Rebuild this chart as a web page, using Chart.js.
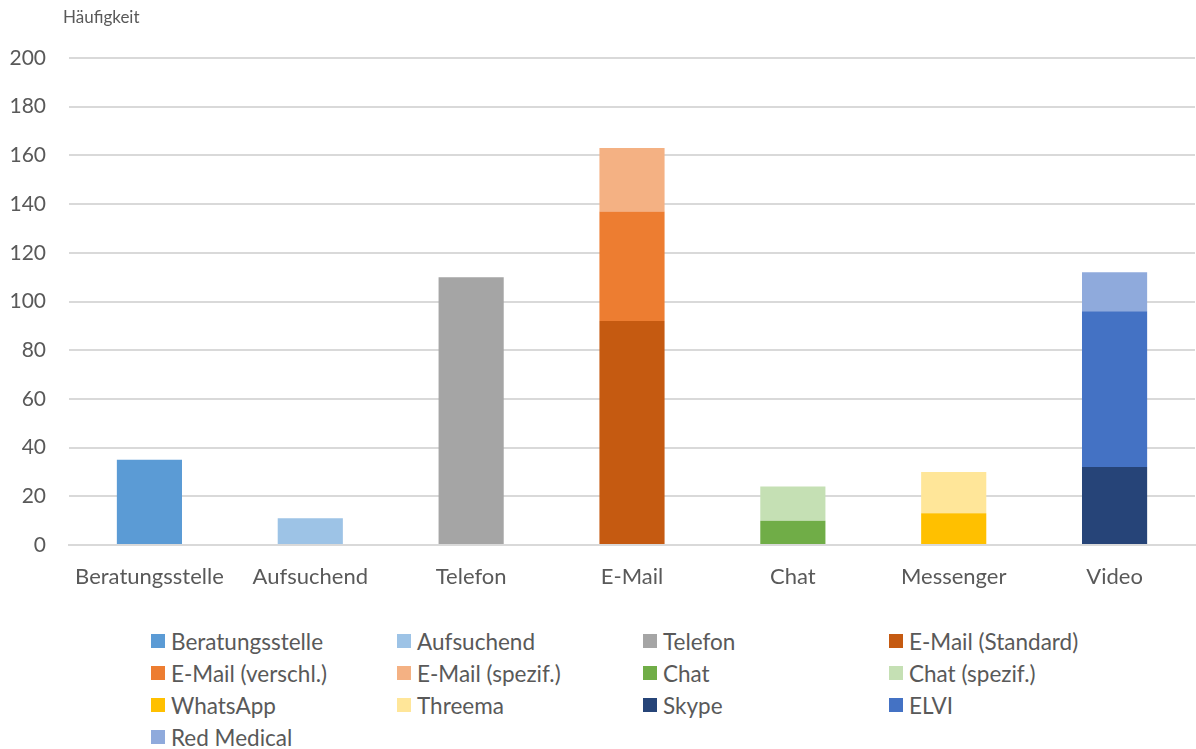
<!DOCTYPE html>
<html>
<head>
<meta charset="utf-8">
<script src="https://cdn.jsdelivr.net/npm/chart.js@4/dist/chart.umd.min.js"></script>
<style>
  body { margin: 0; background: #fff; font-family: Lato, sans-serif; }
  #wrap { position: relative; width: 1196px; height: 749px; }
  #chart { position: absolute; left: 0; top: 0; }
  #legend { position: absolute; left: 151px; top: 625px; display: grid;
            grid-template-columns: repeat(4, 246px); grid-auto-rows: 32px; }
  .item { display: flex; align-items: center; font-size: 22.5px; color: #595959; white-space: nowrap; }
  .box { width: 14px; height: 14px; margin-right: 6px; flex: none; }
</style>
</head>
<body>
<div id="wrap">
  <canvas id="chart" width="1196" height="615"></canvas>
  <div id="legend"></div>
</div>
<script>
// categories on the x axis
var categories = ['Beratungsstelle', 'Aufsuchend', 'Telefon', 'E-Mail', 'Chat', 'Messenger', 'Video'];

// one entry per stacked series
var seriesNames = ['Beratungsstelle', 'Aufsuchend', 'Telefon', 'E-Mail (Standard)', 'E-Mail (verschl.)',
  'E-Mail (spezif.)', 'Chat', 'Chat (spezif.)', 'WhatsApp', 'Threema', 'Skype', 'ELVI', 'Red Medical'];
var seriesCategory = [0, 1, 2, 3, 3, 3, 4, 4, 5, 5, 6, 6, 6];
var seriesValues = [35, 11, 110, 92, 45, 26, 10, 14, 13, 17, 32, 64, 16];
var seriesColors = ['#5B9BD5', '#9DC3E6', '#A5A5A5', '#C55A11', '#ED7D31', '#F4B183', '#70AD47',
  '#C5E0B4', '#FFC000', '#FFE699', '#264478', '#4472C4', '#8FAADC'];

var yTicks = [0, 20, 40, 60, 80, 100, 120, 140, 160, 180, 200];
var yTitle = 'Häufigkeit';

var datasets = seriesNames.map(function(name, i) {
  var data = categories.map(function() { return null; });
  data[seriesCategory[i]] = seriesValues[i];
  return {
    label: name,
    data: data,
    backgroundColor: seriesColors[i],
    borderWidth: 0,
    barPercentage: 0.405,
    categoryPercentage: 1
  };
});

var axisTitle = {
  id: 'axisTitle',
  afterDraw: function(chart) {
    var ctx = chart.ctx;
    ctx.save();
    ctx.font = '17px Lato';
    ctx.fillStyle = '#595959';
    ctx.textBaseline = 'middle';
    ctx.fillText(yTitle, 63, 18);
    ctx.restore();
  }
};

var ctx = document.getElementById('chart').getContext('2d');
var myChart = new Chart(ctx, {
  type: 'bar',
  data: { labels: categories, datasets: datasets },
  options: {
    responsive: false,
    animation: false,
    layout: { padding: { top: 58, right: 1, left: 0, bottom: 0 } },
    plugins: { legend: { display: false }, tooltip: { enabled: false } },
    scales: {
      x: {
        stacked: true,
        grid: { display: false, drawTicks: false },
        border: { color: '#d9d9d9', width: 2 },
        ticks: { color: '#595959', font: { family: 'Lato', size: 22 }, padding: 19 },
        afterFit: function(scale) { scale.height = 70; }
      },
      y: {
        stacked: true,
        min: 0,
        max: 200,
        afterBuildTicks: function(scale) {
          scale.ticks = yTicks.map(function(v) { return { value: v }; });
        },
        grid: { color: '#d9d9d9', lineWidth: 2, drawTicks: false },
        border: { display: false },
        ticks: { color: '#595959', font: { family: 'Lato', size: 21 }, padding: 23 },
        afterFit: function(scale) { scale.width = 69; }
      }
    }
  },
  plugins: [axisTitle]
});

// legend in four columns
var legend = document.getElementById('legend');
seriesNames.forEach(function(name, i) {
  var item = document.createElement('div');
  item.className = 'item';
  item.innerHTML = '<span class="box" style="background:' + seriesColors[i] + '"></span>' + name;
  legend.appendChild(item);
});
</script>
</body>
</html>
